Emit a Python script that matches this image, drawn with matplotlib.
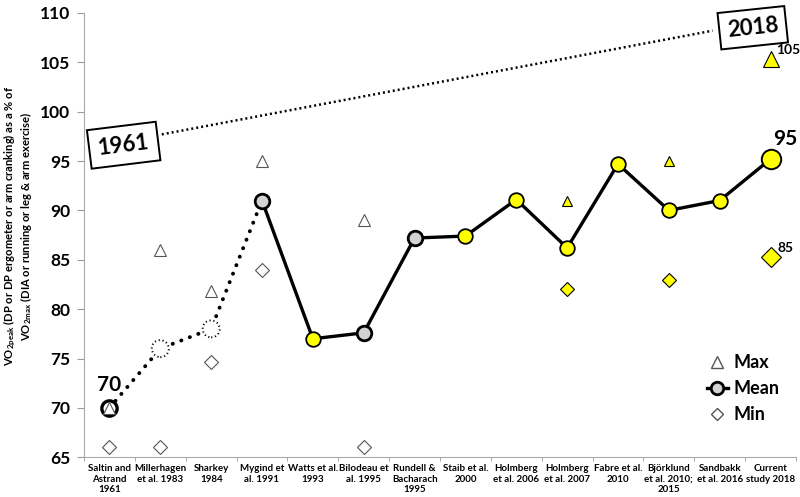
import numpy as np
import matplotlib
matplotlib.use("Agg")
import matplotlib.pyplot as plt
from matplotlib.lines import Line2D

plt.rcParams['font.family'] = ['Lato', 'DejaVu Sans']
plt.rcParams['mathtext.fontset'] = 'custom'
plt.rcParams['mathtext.rm'] = 'Lato:bold'
plt.rcParams['mathtext.it'] = 'Lato:bold'
plt.rcParams['mathtext.bf'] = 'Lato:bold'

# studies along the x axis
studies = ["Saltin and\nAstrand\n1961", "Millerhagen\net al. 1983", "Sharkey\n1984",
           "Mygind et\nal. 1991", "Watts et al.\n1993", "Bilodeau et\nal. 1995",
           "Rundell &\nBacharach\n1995", "Staib et al.\n2000", "Holmberg\net al. 2006",
           "Holmberg\net al. 2007", "Fabre et al.\n2010", "Björklund\net al. 2010;\n2015",
           "Sandbakk\net al. 2016", "Current\nstudy 2018"]

mean_vals = [70, 76, 78, 91, 77, 77.6, 87.2, 87.4, 91.1, 86.2, 94.7, 90, 91, 95.2]
max_vals = [70, 86, 81.8, 95, None, 89, None, None, None, 91, None, 95, None, 105.3]
min_vals = [66, 66, 74.6, 84, None, 66, None, None, None, 82, None, 83, None, 85.3]

# marker fill per mean point
mean_fill = ["white", "white", "white", "#d3d3d3", "#ffff00", "#d3d3d3", "#d3d3d3",
             "#ffff00", "#ffff00", "#ffff00", "#ffff00", "#ffff00", "#ffff00", "#ffff00"]

# trend between first and latest study (annotation line)
trend_x = [1.03, 11.86]
trend_y = [97.7, 108.2]

x = np.arange(len(studies))
yellow = "#ffff00"

fig = plt.figure(figsize=(8, 4.97), dpi=100)
ax = fig.add_axes([0.105, 0.08, 0.89, 0.894])

# trend line
ax.plot(trend_x, trend_y, color="black", lw=1.8, ls=(0, (0.8, 1.2)))
ax.text(0.28, 96.6, "1961", fontsize=16, fontweight="bold", rotation=7, ha="center", va="center",
        bbox=dict(boxstyle="square,pad=0.4", fc="white", ec="black", lw=1.4))
ax.text(12.65, 108.5, "2018", fontsize=16, fontweight="bold", rotation=6, ha="center", va="center",
        bbox=dict(boxstyle="square,pad=0.35", fc="white", ec="black", lw=1.4))

# mean line: dotted early part, solid later
ax.plot(x[:4], mean_vals[:4], color="black", lw=2.8, ls=(0, (0.05, 2.3)),
        dash_capstyle="round", zorder=2)
ax.plot(x[3:], mean_vals[3:], color="black", lw=2.4, zorder=2)

# max / min markers
for i in range(len(studies)):
    if max_vals[i] is None:
        continue
    if i == 13:
        fc, ec, ms_max, ms_min = yellow, "black", 12, 10
    elif i in (9, 11):
        fc, ec, ms_max, ms_min = yellow, "black", 7.5, 7
    else:
        fc, ec, ms_max, ms_min = "white", "#555555", 9, 7.5
    ax.plot(x[i], max_vals[i], marker="^", ms=ms_max, mfc=fc, mec=ec, mew=0.8, zorder=7 if i == 0 else 4)
    ax.plot(x[i], min_vals[i], marker="D", ms=ms_min, mfc=fc, mec=ec, mew=0.8, zorder=4)

# mean markers
for i in range(len(studies)):
    if i == 0:
        ax.plot(x[i], mean_vals[i], "o", ms=11, mfc="white", mec="black", mew=2.4, zorder=6)
    elif i in (1, 2):
        # dotted outline circles over the early estimates
        ax.scatter(x[i], mean_vals[i], s=150, facecolors="white", edgecolors="black",
                   linewidths=1.4, linestyles=(0, (0.6, 1.4)), zorder=3)
    elif i == 13:
        ax.plot(x[i], mean_vals[i], "o", ms=14, mfc=mean_fill[i], mec="black", mew=1.4, zorder=3)
    else:
        ax.plot(x[i], mean_vals[i], "o", ms=10.5, mfc=mean_fill[i], mec="black",
                mew=2.0 if mean_fill[i] != yellow else 1.3, zorder=3)

# value labels
ax.text(x[0], mean_vals[0] + 1.3, "70", fontsize=15, fontweight="bold", ha="center", va="bottom")
ax.text(x[13] + 0.28, mean_vals[13] + 1.0, "95", fontsize=15, fontweight="bold", ha="center", va="bottom")
ax.text(x[13] + 0.1, max_vals[13] + 0.9, "105", fontsize=10, fontweight="bold", ha="left", va="center")
ax.text(x[13] + 0.14, min_vals[13] + 0.9, "85", fontsize=10, fontweight="bold", ha="left", va="center")

ax.set_xlim(-0.5, 13.5)
ax.set_ylim(65, 110)
ax.set_yticks(range(65, 111, 5))
ax.set_xticks(x)
ax.set_xticklabels(studies, fontsize=7, fontweight="bold", va="top")
ax.set_xticks(np.arange(-0.5, 14, 1), minor=True)
ax.tick_params(axis="x", which="major", length=0, pad=5)
ax.tick_params(axis="x", which="minor", length=3, color="#999999")
ax.tick_params(axis="y", length=5, color="#999999", labelsize=12.5, pad=5)
for lab in ax.get_yticklabels():
    lab.set_fontweight("bold")
for s in ("top", "right"):
    ax.spines[s].set_visible(False)
for s in ("left", "bottom"):
    ax.spines[s].set_color("#aaaaaa")

ax.set_ylabel("VO$_{2peak}$ (DP or DP ergometer or arm cranking) as a % of\n"
              "VO$_{2max}$ (DIA or running or leg & arm exercise)",
              fontsize=8.1, fontweight="bold", linespacing=1.0, va="center")
ax.yaxis.set_label_coords(-0.093, 0.52)

handles = [Line2D([], [], marker="^", ls="none", mfc="white", mec="#555555", ms=8),
           Line2D([], [], marker="o", color="black", lw=2.4, mfc="#d3d3d3", mec="black", mew=2, ms=9),
           Line2D([], [], marker="D", ls="none", mfc="white", mec="#555555", ms=6.5)]
ax.legend(handles, ["Max", "Mean", "Min"], loc="lower right", bbox_to_anchor=(1.0, 0.04),
          frameon=False, prop=dict(size=13, weight="bold"), handlelength=1.2,
          handletextpad=0.3, labelspacing=0.5)

fig.savefig("out.png", dpi=100)
